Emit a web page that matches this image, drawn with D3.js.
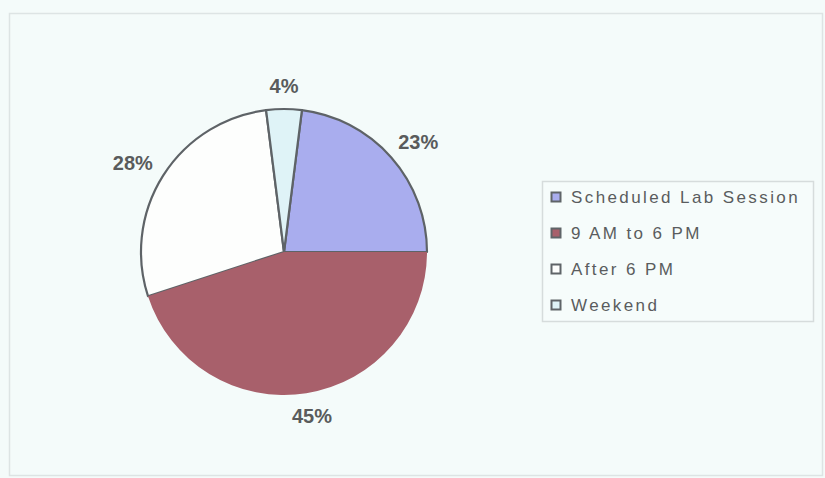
<!DOCTYPE html>
<html>
<head>
<meta charset="utf-8">
<script src="https://cdn.jsdelivr.net/npm/d3@7"></script>
<style>
  html, body { margin: 0; padding: 0; background: #f4fbfa; }
  svg { display: block; }
  text { font-family: "Liberation Sans", Arial, sans-serif; }
</style>
</head>
<body>
<svg id="chart" width="825" height="478"></svg>
<script>
// Share of lab usage by time slot (percent)
const categories = ["Scheduled Lab Session", "9 AM to 6 PM", "After 6 PM", "Weekend"];
const shares = [23, 45, 28, 4];
const sliceColors = ["#a9adee", "#a8606b", "#fdfefd", "#dff3f7"];

const W = 825, H = 478;
const cx = 284, cy = 252, radius = 143;

const svg = d3.select("#chart");

// outer chart frame
svg.append("rect")
  .attr("x", 9.5).attr("y", 13.5)
  .attr("width", W - 12).attr("height", H - 16)
  .attr("fill", "#f4fbfa")
  .attr("stroke", "#dde4e4")
  .attr("stroke-width", 1.5);

const data = categories.map((c, i) => ({ name: c, value: shares[i], color: sliceColors[i] }));

// first slice begins so that it ends exactly at 3 o'clock
const offset = 2 * Math.PI * (0.25 - shares[0] / 100);
const pie = d3.pie().value(d => d.value).sort(null)
  .startAngle(offset).endAngle(offset + 2 * Math.PI);
const arcs = pie(data);
const arc = d3.arc().innerRadius(0).outerRadius(radius);

const g = svg.append("g").attr("transform", `translate(${cx},${cy})`);

// outlined slices first, the dark red slice on top without outline
const order = [0, 2, 3, 1];
order.forEach(i => {
  const a = arcs[i];
  g.append("path")
    .attr("d", arc(a))
    .attr("fill", a.data.color)
    .attr("stroke", i === 1 ? "none" : "#5e6367")
    .attr("stroke-width", i === 1 ? 0 : 2.2)
    .attr("stroke-linejoin", "round");
});

// percentage labels outside the pie
const labelR = 158;
arcs.forEach(a => {
  const mid = (a.startAngle + a.endAngle) / 2;
  const s = Math.sin(mid), c = Math.cos(mid);
  const x = labelR * s + 21 * s;
  const y = -labelR * c - 8 * c;
  g.append("text")
    .attr("x", x).attr("y", y)
    .attr("dy", "0.36em")
    .attr("text-anchor", "middle")
    .attr("font-size", 20)
    .attr("font-weight", "bold")
    .attr("fill", "#595b5c")
    .text(a.data.value + "%");
});

// legend
const lg = svg.append("g");
lg.append("rect")
  .attr("x", 542.5).attr("y", 181.5)
  .attr("width", 271).attr("height", 140)
  .attr("fill", "#f6fcfb")
  .attr("stroke", "#d6dcdc")
  .attr("stroke-width", 1.5);

const rowY = d3.scalePoint().domain(categories).range([197, 305]);
categories.forEach((c, i) => {
  const y = rowY(c);
  lg.append("rect")
    .attr("x", 551.5).attr("y", y - 4.5)
    .attr("width", 9).attr("height", 9)
    .attr("fill", sliceColors[i])
    .attr("stroke", "#5f6468")
    .attr("stroke-width", 2);
  lg.append("text")
    .attr("x", 571).attr("y", y)
    .attr("dy", "0.36em")
    .attr("font-size", 17)
    .attr("letter-spacing", 2.4)
    .attr("fill", "#5a5c5e")
    .text(c);
});
</script>
</body>
</html>
